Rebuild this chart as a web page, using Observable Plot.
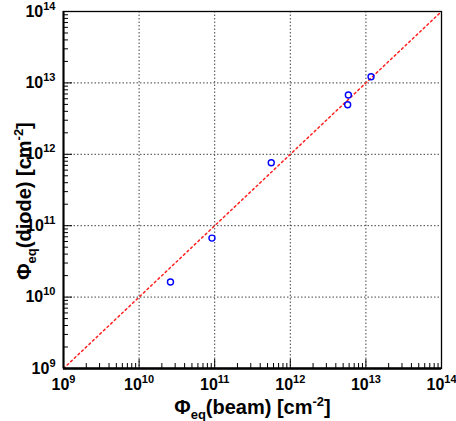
<!DOCTYPE html>
<html><head><meta charset="utf-8">
<script src="https://cdn.jsdelivr.net/npm/d3@7"></script>
<script src="https://cdn.jsdelivr.net/npm/@observablehq/plot@0.6"></script>
<style>html,body{margin:0;padding:0;background:#fff}svg{display:block}</style>
</head><body><div id="chart"></div>
<script>
// Data
const beam  = [2.6e10, 9.2e10, 5.6e11, 5.86e12, 5.74e12, 1.17e13];
const diode = [1.63e10, 6.7e10, 7.6e11, 6.77e12, 4.94e12, 1.22e13];
// y = x reference line
const refX = [1e9, 1e14];
const refY = [1e9, 1e14];
// tick values and labels
const decades = [1e9, 1e10, 1e11, 1e12, 1e13, 1e14];
const exponents = ["9", "10", "11", "12", "13", "14"];
const minorMult = [2, 3, 4, 5, 6, 7, 8, 9];
const minorTicks = decades.slice(0, 5).flatMap(d => minorMult.map(m => m * d));
const xTitleParts = [["Φ", 0, 0], ["eq", 1, 0], ["(beam) [cm", 0, 0], ["-2", 0, 1], ["]", 0, 0]];
const yTitleParts = [["Φ", 0, 0], ["eq", 1, 0], ["(diode) [cm", 0, 0], ["-2", 0, 1], ["]", 0, 0]];

const W = 456, H = 421, mL = 63, mR = 15, mT = 11, mB = 53;
const pw = W - mL - mR, ph = H - mT - mB;
const points = beam.map((b, i) => ({beam: b, diode: diode[i]}));
const refLine = refX.map((x, i) => ({x, y: refY[i]}));
const expOf = d => exponents[decades.indexOf(d)];

const plot = Plot.plot({
  width: W, height: H,
  marginLeft: mL, marginRight: mR, marginTop: mT, marginBottom: mB,
  style: {fontFamily: "'Liberation Sans', Arial, sans-serif", fontWeight: "bold", background: "white", color: "black", overflow: "visible"},
  x: {type: "log", domain: [1e9, 1e14]},
  y: {type: "log", domain: [1e9, 1e14]},
  marks: [
    Plot.gridX(decades.slice(1, -1), {stroke: "#444", strokeOpacity: 1, strokeDasharray: "1.5,2", strokeWidth: 1}),
    Plot.gridY(decades.slice(1, -1), {stroke: "#444", strokeOpacity: 1, strokeDasharray: "1.5,2", strokeWidth: 1}),
    Plot.ruleX(minorTicks, {insetTop: ph - 5, stroke: "black", strokeWidth: 1}),
    Plot.ruleX(decades, {insetTop: ph - 9, stroke: "black", strokeWidth: 1}),
    Plot.ruleY(minorTicks, {insetRight: pw - 5, stroke: "black", strokeWidth: 1}),
    Plot.ruleY(decades, {insetRight: pw - 9, stroke: "black", strokeWidth: 1}),
    Plot.line(refLine, {x: "x", y: "y", stroke: "#ff2020", strokeWidth: 1.5, strokeDasharray: "2,3"}),
    Plot.dot(points, {x: "beam", y: "diode", r: 3, stroke: "#0000ff", strokeWidth: 1.4, fill: "none"}),
    Plot.frame({stroke: "black", strokeWidth: 1.3}),
    Plot.ruleY([1e9], {stroke: "black", strokeWidth: 2.5}),
    Plot.ruleX([1e9], {stroke: "black", strokeWidth: 2}),
    Plot.axisX(decades, {tickSize: 0, tickPadding: 10, tickFormat: d => "10^" + expOf(d), fontSize: 16, fill: "black", label: null}),
    Plot.axisY(decades, {tickSize: 0, tickPadding: 8, tickFormat: d => "10^" + expOf(d), fontSize: 16, fill: "black", label: null}),
    Plot.text(["XTITLE"], {text: d => d, frameAnchor: "bottom", dy: 45, fontSize: 20, lineAnchor: "bottom", textAnchor: "middle", fill: "black"}),
    Plot.text(["YTITLE"], {text: d => d, frameAnchor: "left", dx: -33, dy: 11, rotate: -90, fontSize: 20, lineAnchor: "bottom", textAnchor: "middle", fill: "black"})
  ]
});

// superscript exponents on tick labels
d3.select(plot).selectAll('g[aria-label="x-axis tick label"] text, g[aria-label="y-axis tick label"] text').each(function () {
  const m = this.textContent.match(/^10\^(\d+)$/);
  if (m) {
    this.textContent = "10";
    d3.select(this).append("tspan").attr("dy", "-7").attr("font-size", "11").text(m[1]);
  }
});

// rich axis titles
function rich(el, parts) {
  el.textContent = "";
  let cur = 0;
  for (const [s, sub, sup] of parts) {
    const target = sub ? 5 : sup ? -8 : 0;
    const t = d3.select(el).append("tspan").attr("dy", target - cur).text(s);
    if (sub || sup) t.attr("font-size", "13");
    cur = target;
  }
}
d3.select(plot).selectAll("text").each(function () {
  if (this.textContent === "XTITLE") rich(this, xTitleParts);
  else if (this.textContent === "YTITLE") rich(this, yTitleParts);
});

document.getElementById("chart").append(plot);
</script>
</body></html>
